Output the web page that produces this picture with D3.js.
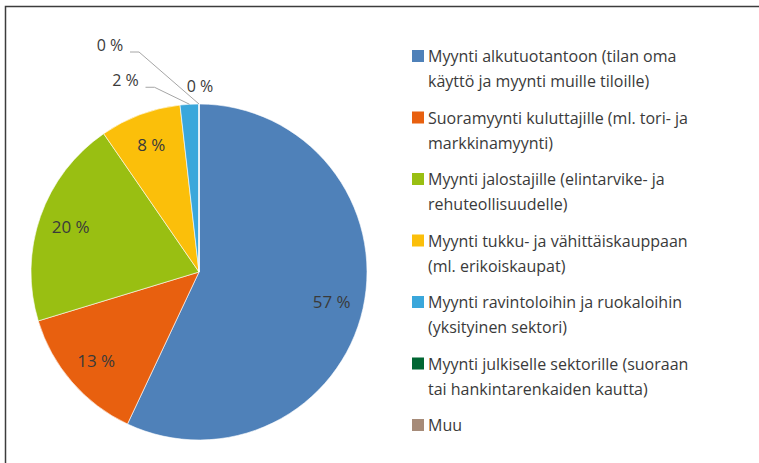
<!DOCTYPE html>
<html>
<head>
<meta charset="utf-8">
<script src="https://cdn.jsdelivr.net/npm/d3@7"></script>
<style>
  body { margin: 0; background: #fff; }
  text { font-family: "Open Sans", sans-serif; fill: #3a3a3a; }
</style>
</head>
<body>
<script>
var w = 759;
var h = 463;

// data
var categories = [
  ['Myynti alkutuotantoon (tilan oma', 'käyttö ja myynti muille tiloille)'],
  ['Suoramyynti kuluttajille (ml. tori- ja', 'markkinamyynti)'],
  ['Myynti jalostajille (elintarvike- ja', 'rehuteollisuudelle)'],
  ['Myynti tukku- ja vähittäiskauppaan', '(ml. erikoiskaupat)'],
  ['Myynti ravintoloihin ja ruokaloihin', '(yksityinen sektori)'],
  ['Myynti julkiselle sektorille (suoraan', 'tai hankintarenkaiden kautta)'],
  ['Muu']
];
var values = [57.0, 13.3, 20.1, 7.8, 1.8, 0, 0];
var labels = ['57 %', '13 %', '20 %', '8 %', '2 %', '0 %', '0 %'];
var colors = ['#4f81b9', '#e8600f', '#99bf12', '#fbbf0a', '#3aa7db', '#006633', '#a68b79'];

// label placement for the small slices (offset from the slice's outer edge)
var outside = { 4: {dx: -64, dy: -24, leader: true},
                5: {dx: -89, dy: -59, leader: true},
                6: {dx: 1, dy: -18, leader: false} };

var cx = 199, cy = 272, r = 168;

var svg = d3.select('body').append('svg')
            .attr('width', w)
            .attr('height', h);

// frame (top + left only)
svg.append('path')
   .attr('d', 'M5.5,' + h + 'V6.5H' + w)
   .attr('fill', 'none')
   .attr('stroke', '#3c3c3c')
   .attr('stroke-width', 1.5);

var pie = d3.pie().sort(null).value(function(d){ return d; });
var arcs = pie(values);
var arc = d3.arc().innerRadius(0).outerRadius(r);
var labelArc = d3.arc().innerRadius(136).outerRadius(136);

var chart = svg.append('g')
               .attr('transform', 'translate(' + cx + ',' + cy + ')');

chart.selectAll('.slice')
     .data(arcs)
     .enter()
       .append('path')
       .classed('slice', true)
       .attr('d', arc)
       .attr('fill', function(d, i){ return colors[i]; })
       .attr('stroke', '#fff')
       .attr('stroke-width', 0.6);

arcs.forEach(function(d, i){
  var mid = (d.startAngle + d.endAngle) / 2;
  var o = outside[i];
  if (!o) {
    var c = labelArc.centroid(d);
    chart.append('text')
         .attr('x', c[0])
         .attr('y', c[1])
         .attr('dy', '0.35em')
         .attr('text-anchor', 'middle')
         .style('font-size', '17px')
         .text(labels[i]);
    return;
  }
  var ex = r * Math.sin(mid), ey = -r * Math.cos(mid);
  var lx = ex + o.dx, ly = ey + o.dy;
  chart.append('text')
       .attr('x', lx)
       .attr('y', ly)
       .attr('dy', '0.35em')
       .attr('text-anchor', 'middle')
       .style('font-size', '16px')
       .text(labels[i]);
  if (o.leader) {
    var sx = lx + 20, sy = ly + 7;
    chart.append('polyline')
         .attr('points', [[sx, sy], [sx + 9, sy], [ex, ey]].join(' '))
         .attr('fill', 'none')
         .attr('stroke', '#a6a6a6')
         .attr('stroke-width', 1);
  }
});

// legend
var legend = svg.append('g')
                .attr('transform', 'translate(412,50)');
var item = legend.selectAll('.item')
                 .data(categories)
                 .enter()
                   .append('g')
                   .classed('item', true)
                   .attr('transform', function(d, i){ return 'translate(0,' + (i * 61.5) + ')'; });
item.append('rect')
    .attr('width', 12)
    .attr('height', 12)
    .attr('fill', function(d, i){ return colors[i]; });
item.append('text')
    .attr('x', 16)
    .attr('y', 12)
    .style('font-size', '16px')
    .selectAll('tspan')
    .data(function(d){ return d; })
    .enter()
      .append('tspan')
      .attr('x', 16)
      .attr('dy', function(d, i){ return i ? 25 : 0; })
      .text(function(d){ return d; });
</script>
</body>
</html>
